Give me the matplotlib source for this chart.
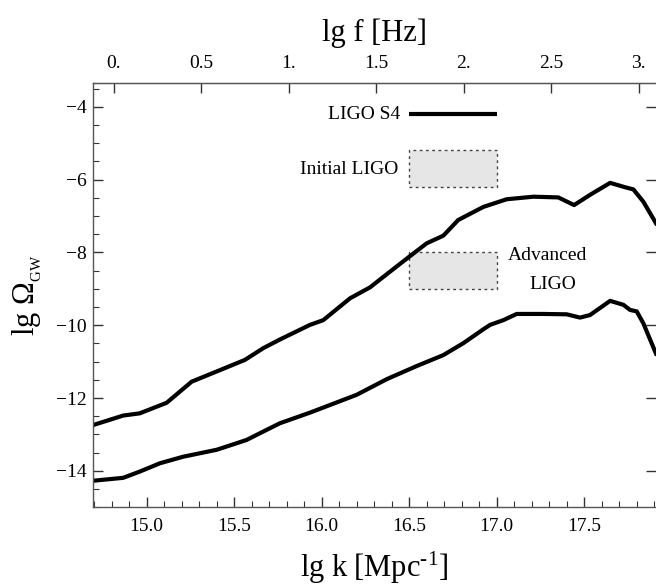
import numpy as np
import matplotlib
matplotlib.use("Agg")
import matplotlib.pyplot as plt
from matplotlib.patches import Rectangle
from matplotlib.ticker import MultipleLocator, FixedLocator, FixedFormatter

plt.rcParams['font.family'] = ['Liberation Serif', 'DejaVu Serif']
plt.rcParams['mathtext.fontset'] = 'custom'
plt.rcParams['mathtext.rm'] = 'Liberation Serif'
plt.rcParams['mathtext.it'] = 'Liberation Serif:italic'

# lg f = lg k - 14.81  (f = c k / 2pi, k in Mpc^-1)
LGK_TO_LGF = 14.8107

# upper curve
k_upper = [14.695, 14.866, 14.96, 15.114, 15.257, 15.42, 15.562, 15.666, 15.762,
           15.933, 16.009, 16.162, 16.276, 16.39, 16.505, 16.60, 16.695, 16.78,
           16.924, 17.057, 17.21, 17.352, 17.442, 17.533, 17.648, 17.733, 17.781,
           17.838, 17.91]
omega_upper = [-12.74, -12.48, -12.42, -12.13, -11.55, -11.23, -10.95, -10.63, -10.39,
               -9.99, -9.86, -9.26, -8.96, -8.53, -8.10, -7.75, -7.54, -7.11,
               -6.75, -6.54, -6.47, -6.49, -6.70, -6.42, -6.09, -6.21, -6.27,
               -6.61, -7.20]

# lower curve
k_lower = [14.695, 14.866, 14.96, 15.076, 15.209, 15.40, 15.571, 15.666, 15.762,
           15.933, 16.20, 16.372, 16.543, 16.695, 16.81, 16.924, 16.962, 17.038,
           17.114, 17.266, 17.40, 17.476, 17.533, 17.648, 17.724, 17.762, 17.80,
           17.838, 17.91]
omega_lower = [-14.27, -14.19, -14.02, -13.79, -13.61, -13.42, -13.15, -12.92, -12.69,
               -12.40, -11.91, -11.48, -11.12, -10.82, -10.49, -10.11, -9.99, -9.86,
               -9.69, -9.69, -9.70, -9.79, -9.72, -9.33, -9.44, -9.58, -9.62,
               -9.95, -10.78]

# detector limits
s4_k = [16.5, 17.0]
s4_omega = [-4.2, -4.2]
initial_k = [16.5, 17.0]
initial_omega = [-6.2, -5.2]
advanced_k = [16.5, 17.0]
advanced_omega = [-9.0, -8.0]

f_ticks = [0, 0.5, 1, 1.5, 2, 2.5, 3]
f_labels = ['0.', '0.5', '1.', '1.5', '2.', '2.5', '3.']

fig = plt.figure(figsize=(6.56, 5.85), dpi=100)
ax = fig.add_axes([0.1422, 0.1328, 1.0 - 0.1422, 0.7258])

ax.plot(k_upper, omega_upper, color='black', lw=3, solid_joinstyle='round')
ax.plot(k_lower, omega_lower, color='black', lw=3, solid_joinstyle='round')
ax.plot(s4_k, s4_omega, color='black', lw=3, solid_capstyle='butt')

for kk, oo in [(initial_k, initial_omega), (advanced_k, advanced_omega)]:
    ax.add_patch(Rectangle((kk[0], oo[0]), kk[1] - kk[0], oo[1] - oo[0],
                           facecolor='#e6e6e6', edgecolor='#444444', lw=1,
                           linestyle=(0, (2, 2.5))))

ax.text(16.45, -4.2, 'LIGO S4', ha='right', va='center', fontsize=14)
ax.text(16.44, -5.72, 'Initial LIGO', ha='right', va='center', fontsize=14)
ax.text(17.29, -8.09, 'Advanced', ha='center', va='center', fontsize=14)
ax.text(17.32, -8.87, 'LIGO', ha='center', va='center', fontsize=14)

ax.set_xlim(14.695, 17.91)
ax.set_ylim(-15.0, -3.34)

ax.xaxis.set_major_locator(MultipleLocator(0.5))
ax.xaxis.set_minor_locator(MultipleLocator(0.1))
ax.xaxis.set_major_formatter(matplotlib.ticker.FormatStrFormatter('%.1f'))
ax.yaxis.set_major_locator(MultipleLocator(2))
ax.yaxis.set_minor_locator(MultipleLocator(0.5))

ax.tick_params(axis='both', which='both', direction='in', colors='#333333',
               labelcolor='black', labelsize=14)
ax.tick_params(axis='x', which='major', length=7, width=1, pad=8, top=False)
ax.tick_params(axis='x', which='minor', length=4, width=0.8, top=False)
ax.tick_params(axis='y', which='major', length=7, width=1, pad=5, right=True)
ax.tick_params(axis='y', which='minor', length=4, width=0.8, right=False)
for side in ['left', 'bottom', 'top']:
    ax.spines[side].set_color('#555555')
    ax.spines[side].set_linewidth(1)
ax.spines['right'].set_visible(False)

top = ax.secondary_xaxis('top', functions=(lambda k: k - LGK_TO_LGF,
                                           lambda f: f + LGK_TO_LGF))
top.xaxis.set_major_locator(FixedLocator(f_ticks))
top.xaxis.set_major_formatter(FixedFormatter(f_labels))
top.tick_params(direction='in', length=7, width=1, colors='#333333',
                labelcolor='black', labelsize=14, pad=8)
top.spines['top'].set_color('#555555')
top.set_xlabel('lg f [Hz]', fontsize=22, labelpad=10)

ax.set_xlabel(r'$\mathrm{lg\ k\ [Mpc}^{\mathrm{\text{-}1}}\mathrm{]}$', fontsize=22, labelpad=10)
ax.set_ylabel(r'lg $\Omega_{_{\mathrm{GW}}}$', fontsize=22, labelpad=8)

fig.savefig('out.png', dpi=100)
